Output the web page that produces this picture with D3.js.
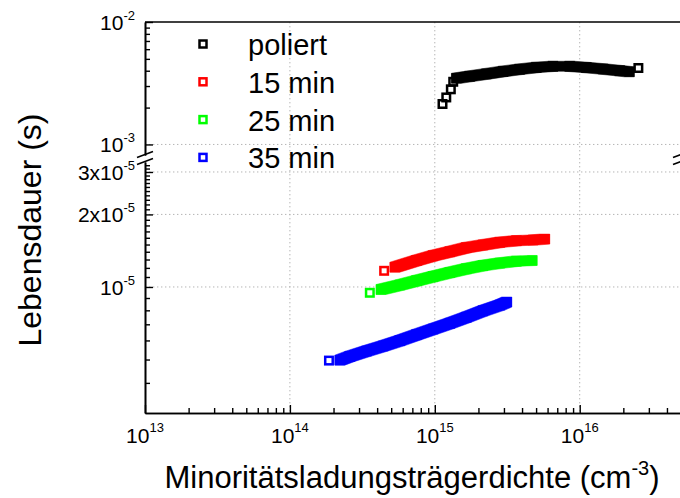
<!DOCTYPE html>
<html>
<head>
<meta charset="utf-8">
<script src="https://cdn.jsdelivr.net/npm/d3@7"></script>
<style>
  body { margin: 0; background: #fff; }
  svg { display: block; }
  text { font-family: "Liberation Sans", Arial, Helvetica, sans-serif; fill: #000; }
</style>
</head>
<body>
<svg id="chart" width="680" height="498"></svg>
<script>
// ---- data: minority carrier density (cm^-3) vs. effective lifetime (s) ----
const seriesNames = ["poliert", "15 min", "25 min", "35 min"];
const seriesColors = ["#000000", "#ff0000", "#00ff00", "#0000ff"];

const polX = [1.13e15, 1.20e15, 1.29e15, 1.34e15, 1.41e15, 1.74e15, 2.27e15, 2.96e15, 3.85e15,
              5.02e15, 6.54e15, 8.53e15, 1.11e16, 1.45e16, 1.89e16, 2.20e16, 2.54e16];
const polY = [2.14e-3, 2.42e-3, 2.82e-3, 3.25e-3, 3.47e-3, 3.60e-3, 3.77e-3, 3.95e-3, 4.11e-3,
              4.26e-3, 4.35e-3, 4.35e-3, 4.25e-3, 4.13e-3, 4.00e-3, 3.92e-3, 4.21e-3];

const m15X = [4.47e14, 5.30e14, 7.48e14, 9.73e14, 1.27e15, 1.65e15, 2.15e15, 2.81e15, 3.66e15, 4.76e15, 5.74e15];
const m15Y = [1.167e-5, 1.208e-5, 1.288e-5, 1.348e-5, 1.40e-5, 1.456e-5, 1.494e-5, 1.532e-5, 1.556e-5, 1.566e-5, 1.58e-5];

const m25X = [3.56e14, 4.25e14, 5.74e14, 7.48e14, 9.73e14, 1.27e15, 1.65e15, 2.15e15, 2.81e15, 3.66e15, 4.70e15];
const m25Y = [9.46e-6, 9.76e-6, 1.019e-5, 1.062e-5, 1.104e-5, 1.148e-5, 1.19e-5, 1.227e-5, 1.256e-5, 1.28e-5, 1.288e-5];

const m35X = [1.86e14, 2.21e14, 2.59e14, 3.38e14, 4.40e14, 5.74e14, 7.48e14, 9.73e14, 1.27e15,
              1.65e15, 2.15e15, 2.81e15, 3.14e15];
const m35Y = [4.95e-6, 4.97e-6, 5.15e-6, 5.42e-6, 5.69e-6, 5.99e-6, 6.34e-6, 6.69e-6, 7.07e-6,
              7.49e-6, 7.96e-6, 8.41e-6, 8.66e-6];

// tick values and labels
const xMajorTicks = [1e13, 1e14, 1e15, 1e16];
const xTickExps = ["13", "14", "15", "16"];
const yTopMajorTicks = [1e-2, 1e-3];
const yTopTickLabels = [["10", "-2"], ["10", "-3"]];
const yBotMajorTicks = [3e-5, 2e-5, 1e-5];
const yBotTickLabels = [["3x10", "-5"], ["2x10", "-5"], ["10", "-5"]];
const yBotMinorTicks = [4e-6, 5e-6, 6e-6, 7e-6, 8e-6, 9e-6,
  1.1e-5, 1.2e-5, 1.3e-5, 1.4e-5, 1.5e-5, 1.6e-5, 1.7e-5, 1.8e-5, 1.9e-5,
  2.1e-5, 2.2e-5, 2.3e-5, 2.4e-5, 2.5e-5, 2.6e-5, 2.7e-5, 2.8e-5, 2.9e-5, 3.1e-5, 3.2e-5];

// ---- layout ----
const svg = d3.select("#chart");
const L = 145, R = 681, TOP = 22, BOT = 413;
const upperBottom = 155, lowerTop = 162;

const x = d3.scaleLog().domain([1e13, 5e16]).range([L, R]);
const yTop = d3.scaleLog().domain([8.2e-4, 1e-2]).range([upperBottom, TOP]);
const yBot = d3.scaleLog().domain([3e-6, 3.3e-5]).range([BOT, lowerTop]);

const xMinorTicks = [];
[13, 14, 15, 16].forEach(e => { for (let k = 2; k <= 9; k++) { const v = k * Math.pow(10, e); if (v <= 5e16) xMinorTicks.push(v); } });
const yTopMinorTicks = d3.range(2, 10).map(k => k * 1e-3);

// ---- grid ----
const grid = svg.append("g").attr("stroke", "#b4b4b4").attr("stroke-width", 1).attr("stroke-dasharray", "1.4,2.6");
[1e14, 1e15, 1e16].forEach(v => grid.append("line").attr("x1", x(v)).attr("x2", x(v)).attr("y1", TOP).attr("y2", BOT));
grid.append("line").attr("x1", L).attr("x2", R).attr("y1", yTop(1e-3)).attr("y2", yTop(1e-3));
yBotMajorTicks.forEach(v => grid.append("line").attr("x1", L).attr("x2", R).attr("y1", yBot(v)).attr("y2", yBot(v)));

// ---- series ----
const series = [
  { name: seriesNames[0], color: seriesColors[0], xs: polX, ys: polY, y: yTop, band: [4, 16] },
  { name: seriesNames[1], color: seriesColors[1], xs: m15X, ys: m15Y, y: yBot, band: [1, 11] },
  { name: seriesNames[2], color: seriesColors[2], xs: m25X, ys: m25Y, y: yBot, band: [1, 11] },
  { name: seriesNames[3], color: seriesColors[3], xs: m35X, ys: m35Y, y: yBot, band: [1, 13] }
];

const MS = 7.5;          // marker side (path centre)
const MSW = 2.5;         // marker stroke
const HALF = (MS + MSW) / 2; // half of the outer marker extent

// swept square: union of the convex hulls of neighbouring marker outlines
function sweptSquares(px) {
  const polys = [];
  for (let i = 0; i < px.length - 1; i++) {
    const c = [];
    [px[i], px[i + 1]].forEach(([cx, cy]) => {
      c.push([cx - HALF, cy - HALF], [cx + HALF, cy - HALF], [cx + HALF, cy + HALF], [cx - HALF, cy + HALF]);
    });
    polys.push(d3.polygonHull(c));
  }
  return polys;
}

series.forEach(s => {
  const pts = s.xs.map((v, i) => [v, s.ys[i]]);
  const px = pts.map(d => [x(d[0]), s.y(d[1])]);
  const g = svg.append("g");
  // densely measured points merge into a continuous band
  g.selectAll("path.band").data(sweptSquares(px.slice(s.band[0], s.band[1]))).join("path")
    .attr("class", "band")
    .attr("d", p => "M" + p.map(q => q.join(",")).join("L") + "Z")
    .attr("fill", s.color).attr("stroke", s.color).attr("stroke-width", 0.5);
  g.selectAll("rect").data(px).join("rect")
    .attr("x", d => d[0] - MS / 2).attr("y", d => d[1] - MS / 2)
    .attr("width", MS).attr("height", MS)
    .attr("fill", "none").attr("stroke", s.color).attr("stroke-width", MSW);
});

// ---- axes ----
function styleAxis(g) {
  g.selectAll("path.domain").attr("stroke", "#000").attr("stroke-width", 1.6);
  g.selectAll(".tick line").attr("stroke", "#000").attr("stroke-width", 1.4);
  g.selectAll(".tick text").remove();
}
svg.append("g").attr("transform", `translate(${L},0)`)
  .call(d3.axisLeft(yTop).tickValues(yTopMajorTicks).tickSizeInner(-8).tickSizeOuter(0).tickFormat(""))
  .call(styleAxis);
svg.append("g").attr("transform", `translate(${L},0)`)
  .call(d3.axisLeft(yTop).tickValues(yTopMinorTicks).tickSizeInner(-5).tickSizeOuter(0).tickFormat(""))
  .call(styleAxis);
svg.append("g").attr("transform", `translate(${L},0)`)
  .call(d3.axisLeft(yBot).tickValues(yBotMajorTicks).tickSizeInner(-8).tickSizeOuter(0).tickFormat(""))
  .call(styleAxis);
svg.append("g").attr("transform", `translate(${L},0)`)
  .call(d3.axisLeft(yBot).tickValues(yBotMinorTicks).tickSizeInner(-5).tickSizeOuter(0).tickFormat(""))
  .call(styleAxis);
svg.append("g").attr("transform", `translate(0,${BOT})`)
  .call(d3.axisBottom(x).tickValues(xMajorTicks).tickSizeInner(-8).tickSizeOuter(0).tickFormat(""))
  .call(styleAxis);
svg.append("g").attr("transform", `translate(0,${BOT})`)
  .call(d3.axisBottom(x).tickValues(xMinorTicks).tickSizeInner(-5).tickSizeOuter(0).tickFormat(""))
  .call(styleAxis);
// top frame of the upper panel
svg.append("line").attr("x1", L).attr("x2", R).attr("y1", TOP).attr("y2", TOP)
  .attr("stroke", "#000").attr("stroke-width", 1.6);

// axis break marks
[L, R].forEach(ax => {
  [0, 7].forEach(dy => {
    svg.append("line")
      .attr("x1", ax - 8).attr("y1", 157.5 + dy).attr("x2", ax + 8).attr("y2", 151.5 + dy)
      .attr("stroke", "#000").attr("stroke-width", 1.5);
  });
});

// ---- tick labels ----
function supLabel(parent, px, py, base, exp, anchor, size, supSize, rise) {
  const t = parent.append("text").attr("x", px).attr("y", py).attr("text-anchor", anchor)
    .style("font-size", size + "px");
  t.append("tspan").text(base);
  t.append("tspan").attr("dy", -rise).style("font-size", supSize + "px").text(exp);
  return t;
}
const labels = svg.append("g");
yTopMajorTicks.forEach((v, i) => supLabel(labels, 135, yTop(v) + 8, yTopTickLabels[i][0], yTopTickLabels[i][1], "end", 21, 13, 10));
yBotMajorTicks.forEach((v, i) => supLabel(labels, 135, yBot(v) + 8, yBotTickLabels[i][0], yBotTickLabels[i][1], "end", 21, 13, 10));
xMajorTicks.forEach((v, i) => supLabel(labels, x(v), 443, "10", xTickExps[i], "middle", 21, 13, 11));

// ---- axis titles ----
svg.append("text").attr("transform", "translate(41,230) rotate(-90)")
  .attr("text-anchor", "middle").style("font-size", "32px").text("Lebensdauer (s)");
const xt = svg.append("text").attr("x", 412).attr("y", 488).attr("text-anchor", "middle").style("font-size", "31px");
xt.append("tspan").text("Minoritätsladungsträgerdichte (cm");
xt.append("tspan").attr("dy", -13).style("font-size", "20px").text("-3");
xt.append("tspan").attr("dy", 13).text(")");

// ---- legend ----
const leg = svg.append("g");
series.forEach((s, i) => {
  const cy = 44 + i * 37.8;
  leg.append("rect").attr("x", 203 - 3.5).attr("y", cy - 3.5).attr("width", 7).attr("height", 7)
    .attr("fill", "none").attr("stroke", s.color).attr("stroke-width", 2.5);
  leg.append("text").attr("x", 248).attr("y", cy + 11).style("font-size", "29px").text(s.name);
});
</script>
</body>
</html>
